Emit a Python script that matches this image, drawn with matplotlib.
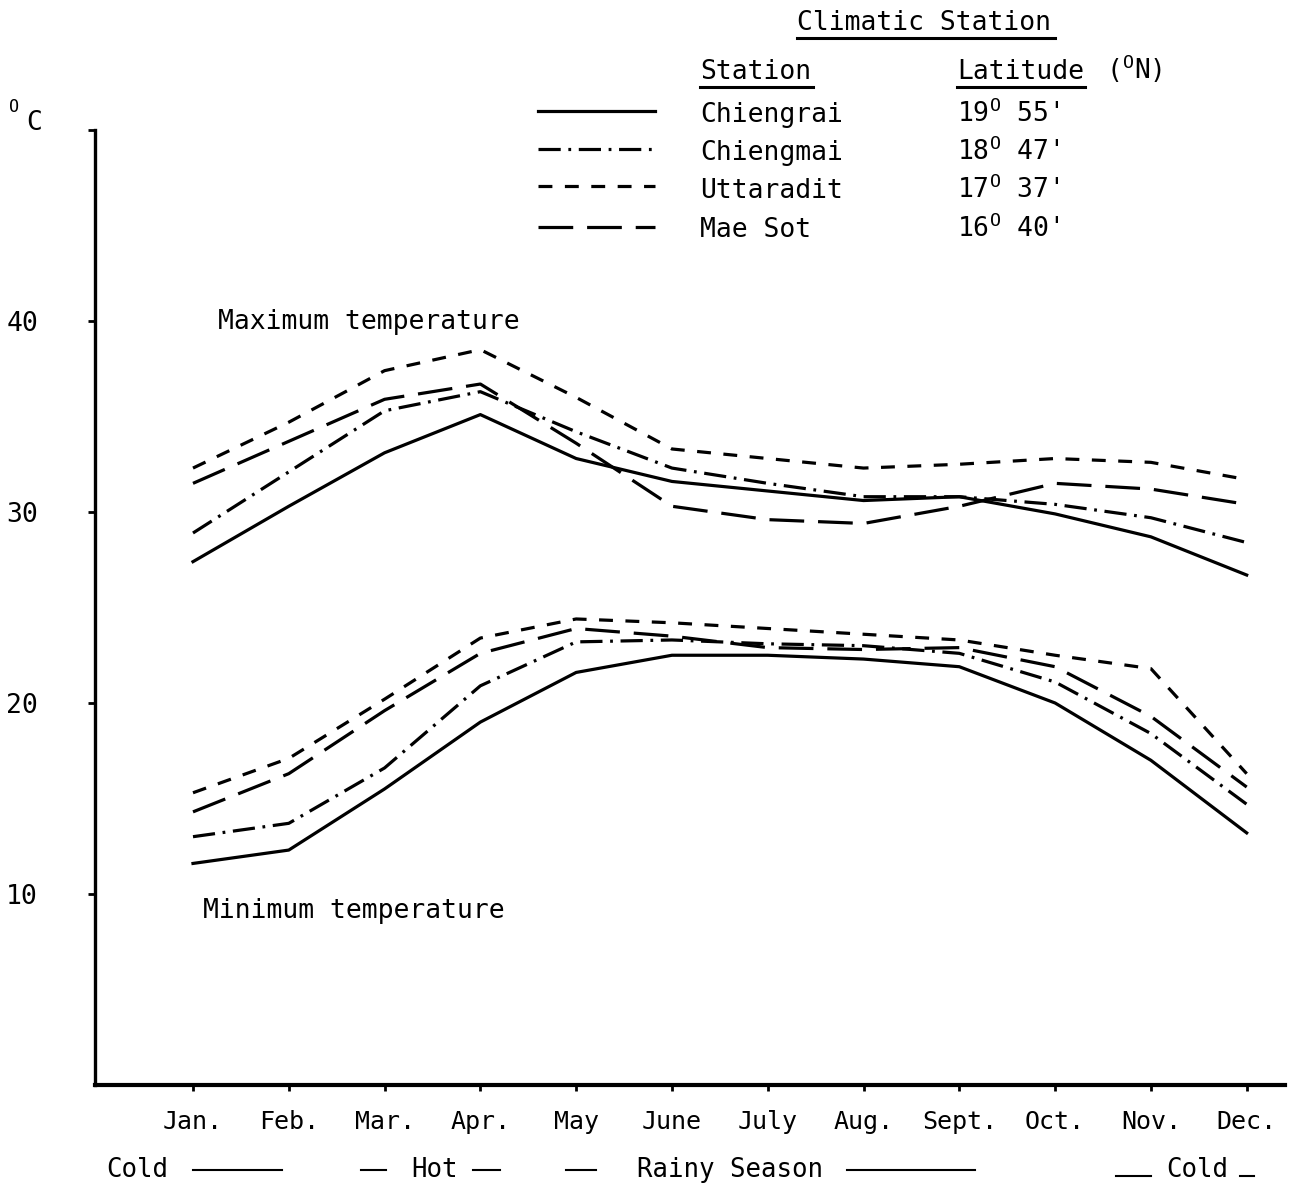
import matplotlib
matplotlib.use('Agg')
import matplotlib.pyplot as plt
from matplotlib.lines import Line2D

# Monthly mean temperatures (deg C) at four climatic stations in northern Thailand
months = ['Jan.', 'Feb.', 'Mar.', 'Apr.', 'May', 'June', 'July', 'Aug.',
          'Sept.', 'Oct.', 'Nov.', 'Dec.']
stations = ['Chiengrai', 'Chiengmai', 'Uttaradit', 'Mae Sot']
latitudes = [('19', "55'"), ('18', "47'"), ('17', "37'"), ('16', "40'")]

max_chiengrai = [27.4, 30.3, 33.1, 35.1, 32.8, 31.6, 31.1, 30.6, 30.8, 29.9, 28.7, 26.7]
max_chiengmai = [28.9, 32.1, 35.3, 36.3, 34.2, 32.3, 31.5, 30.8, 30.8, 30.4, 29.7, 28.4]
max_uttaradit = [32.3, 34.7, 37.4, 38.5, 36.0, 33.3, 32.8, 32.3, 32.5, 32.8, 32.6, 31.7]
max_maesot = [31.5, 33.7, 35.9, 36.7, 33.6, 30.3, 29.6, 29.4, 30.3, 31.5, 31.2, 30.4]

min_chiengrai = [11.6, 12.3, 15.5, 19.0, 21.6, 22.5, 22.5, 22.3, 21.9, 20.0, 17.0, 13.2]
min_chiengmai = [13.0, 13.7, 16.6, 20.9, 23.2, 23.3, 23.1, 23.0, 22.6, 21.1, 18.4, 14.7]
min_uttaradit = [15.3, 17.1, 20.2, 23.4, 24.4, 24.2, 23.9, 23.6, 23.3, 22.5, 21.8, 16.3]
min_maesot = [14.3, 16.3, 19.6, 22.6, 23.9, 23.5, 22.9, 22.8, 22.9, 21.9, 19.3, 15.6]

yticks = [10, 20, 30, 40, 50]
ytick_labels = ['10', '20', '30', '40', '']

plt.rcParams['font.family'] = 'DejaVu Sans Mono'
plt.rcParams['mathtext.fontset'] = 'custom'
plt.rcParams['mathtext.rm'] = 'DejaVu Sans Mono'
plt.rcParams['lines.scale_dashes'] = False

W, H = 1295, 1186

def fx(x):
    return x / W

def fy(y):
    return 1 - y / H

# line style for each station
styles = [
    '-',
    (0, (16, 5.5, 2, 5.5)),
    (0, (10, 9)),
    (0, (25, 10)),
]
lw = 2.3

fig = plt.figure(figsize=(W / 100, H / 100), dpi=100)
ax = fig.add_axes([fx(95), fy(1085), (1285 - 95) / W, (1085 - 130) / H])

x = list(range(len(months)))
max_series = [max_chiengrai, max_chiengmai, max_uttaradit, max_maesot]
min_series = [min_chiengrai, min_chiengmai, min_uttaradit, min_maesot]
for style, mx, mn in zip(styles, max_series, min_series):
    ax.plot(x, mx, color='black', linestyle=style, linewidth=lw)
    ax.plot(x, mn, color='black', linestyle=style, linewidth=lw)

ax.set_xlim(-1.023, 11.40)
ax.set_ylim(0, 50)
ax.spines['top'].set_visible(False)
ax.spines['right'].set_visible(False)
ax.spines['left'].set_linewidth(2.4)
ax.spines['bottom'].set_linewidth(3.0)

ax.set_xticks(x)
ax.set_xticklabels(months, fontsize=18)
ax.tick_params(axis='x', direction='out', length=4, width=2, pad=14)
ax.set_yticks(yticks)
ax.set_yticklabels(ytick_labels, fontsize=19)
ax.tick_params(axis='y', direction='out', length=5, width=2, pad=36)

# annotations inside the plot
fig.text(fx(218), fy(329), 'Maximum temperature', fontsize=19, va='baseline')
fig.text(fx(203), fy(918), 'Minimum temperature', fontsize=19, va='baseline')

# unit label
fig.text(fx(9), fy(112), 'O', fontsize=12, va='baseline')
fig.text(fx(26), fy(130), 'C', fontsize=19, va='baseline')

# legend block
def underline(x1, x2, y, width=2.2):
    fig.add_artist(Line2D([fx(x1), fx(x2)], [fy(y), fy(y)],
                          transform=fig.transFigure, color='black', linewidth=width))

fig.text(fx(797), fy(30), 'Climatic Station', fontsize=19, va='baseline')
underline(797, 1055, 38)
fig.text(fx(700), fy(79), 'Station', fontsize=19, va='baseline')
underline(700, 813, 87)
fig.text(fx(957), fy(79), 'Latitude', fontsize=19, va='baseline')
underline(957, 1085, 87)
fig.text(fx(1106), fy(79), r'($^{\mathrm{O}}$N)', fontsize=19, va='baseline')

key_y = [111, 149, 186, 227]
text_y = [122, 160, 198, 237]
for name, (deg, mins), style, ky, ty in zip(stations, latitudes, styles, key_y, text_y):
    fig.add_artist(Line2D([fx(538), fx(655)], [fy(ky), fy(ky)], transform=fig.transFigure,
                          color='black', linestyle=style, linewidth=lw))
    fig.text(fx(700), fy(ty), name, fontsize=19, va='baseline')
    fig.text(fx(957), fy(ty), deg + r'$^{\mathrm{O}}$ ' + mins, fontsize=19, va='baseline')

# season row under the month axis
season_y = 1177
fig.text(fx(106), fy(season_y), 'Cold', fontsize=18.5, va='baseline')
fig.text(fx(411), fy(season_y), 'Hot', fontsize=18.5, va='baseline')
fig.text(fx(637), fy(season_y), 'Rainy Season', fontsize=18.5, va='baseline')
fig.text(fx(1166), fy(season_y), 'Cold', fontsize=18.5, va='baseline')
for x1, x2, yy in [(193, 282, 1170), (361, 386, 1170), (473, 500, 1170),
                   (566, 596, 1170), (847, 975, 1170),
                   (1116, 1151, 1176), (1240, 1254, 1176)]:
    underline(x1, x2, yy, width=1.5)

fig.savefig('out.png', dpi=100, facecolor='white')
